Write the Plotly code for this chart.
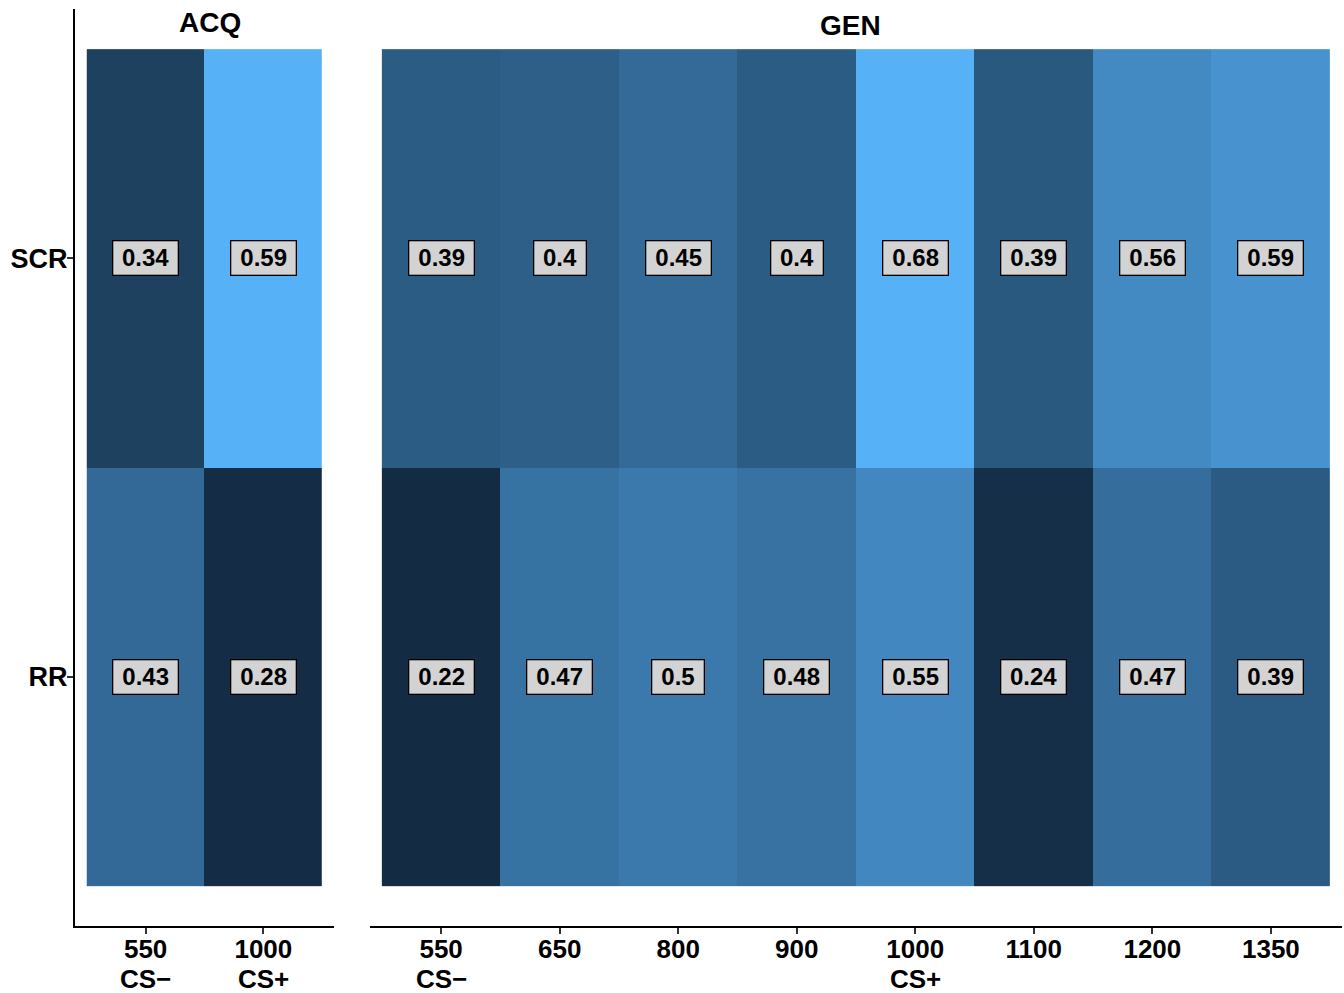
import numpy as np
import plotly.graph_objects as go

# ---------------- data ----------------
rows = ["RR", "SCR"]  # bottom -> top
acq_doses = ["550", "1000"]
acq_cs = ["CS\u2212", "CS+"]
gen_doses = ["550", "650", "800", "900", "1000", "1100", "1200", "1350"]
gen_cs = ["CS\u2212", "", "", "", "CS+", "", "", ""]

acq_scr_labels = [0.34, 0.59]
acq_rr_labels = [0.43, 0.28]
gen_scr_labels = [0.39, 0.4, 0.45, 0.4, 0.68, 0.39, 0.56, 0.59]
gen_rr_labels = [0.22, 0.47, 0.5, 0.48, 0.55, 0.24, 0.47, 0.39]

# fill values (scaled)
acq_scr_fill = [0.18, 1.0]
acq_rr_fill = [0.49, 0.01]
gen_scr_fill = [0.39, 0.415, 0.50, 0.39, 1.0, 0.368, 0.73, 0.796]
gen_rr_fill = [0.0, 0.556, 0.61, 0.56, 0.71, 0.037, 0.527, 0.379]


# ---------------- colour scale (Lab interpolation like ggplot) ----------------
def hex_to_rgb(h):
    h = h.lstrip("#")
    return np.array([int(h[i:i + 2], 16) for i in (0, 2, 4)]) / 255.0


def srgb_to_lin(c):
    return np.where(c <= 0.04045, c / 12.92, ((c + 0.055) / 1.055) ** 2.4)


def lin_to_srgb(c):
    c = np.clip(c, 0, 1)
    return np.where(c <= 0.0031308, 12.92 * c, 1.055 * c ** (1 / 2.4) - 0.055)


M = np.array([[0.4124, 0.3576, 0.1805], [0.2126, 0.7152, 0.0722], [0.0193, 0.1192, 0.9505]])
Minv = np.linalg.inv(M)
WHITE = np.array([0.95047, 1.0, 1.08883])


def f(t):
    d = 6 / 29
    return np.where(t > d ** 3, np.cbrt(t), t / (3 * d * d) + 4 / 29)


def finv(t):
    d = 6 / 29
    return np.where(t > d, t ** 3, 3 * d * d * (t - 4 / 29))


def rgb_to_lab(rgb):
    xyz = M @ srgb_to_lin(rgb) / WHITE
    fx, fy, fz = f(xyz)
    return np.array([116 * fy - 16, 500 * (fx - fy), 200 * (fy - fz)])


def lab_to_rgb(lab):
    L, a, b = lab
    fy = (L + 16) / 116
    fx = fy + a / 500
    fz = fy - b / 200
    xyz = np.array([finv(fx), finv(fy), finv(fz)]) * WHITE
    return lin_to_srgb(Minv @ xyz)


lo = rgb_to_lab(hex_to_rgb("#132B43"))
hi = rgb_to_lab(hex_to_rgb("#56B1F7"))
colorscale = []
for t in np.linspace(0, 1, 21):
    rgb = lab_to_rgb(lo + (hi - lo) * t)
    r, g, b = (np.round(rgb * 255)).astype(int)
    colorscale.append([float(t), f"rgb({r},{g},{b})"])

# ---------------- figure ----------------
W, H = 1344, 993
FONT = "Liberation Sans, Arial, sans-serif"


def px_x(p):
    return p / W


def px_y(p):
    return 1 - p / H


fig = go.Figure()

fig.add_trace(go.Heatmap(
    x=list(range(len(acq_doses))), y=[0, 1],
    z=[acq_rr_fill, acq_scr_fill],
    zmin=0, zmax=1, colorscale=colorscale, showscale=False,
    xaxis="x", yaxis="y", hoverinfo="skip"))
fig.add_trace(go.Heatmap(
    x=list(range(len(gen_doses))), y=[0, 1],
    z=[gen_rr_fill, gen_scr_fill],
    zmin=0, zmax=1, colorscale=colorscale, showscale=False,
    xaxis="x2", yaxis="y", hoverinfo="skip"))

xtickfont = dict(family=FONT, size=26, color="black")
ytickfont = dict(family=FONT, size=27, color="black")
common_x = dict(showgrid=False, zeroline=False, showline=True, linecolor="black",
                linewidth=2, ticks="outside", ticklen=6, tickwidth=1.5,
                tickcolor="#333333", tickfont=xtickfont, anchor="y",
                ticklabelstandoff=-7, automargin=False, fixedrange=True)

y_dom = [px_y(926), px_y(9)]
fig.update_layout(
    width=W, height=H,
    margin=dict(l=0, r=0, t=0, b=0, autoexpand=False),
    paper_bgcolor="white", plot_bgcolor="white",
    xaxis=dict(domain=[px_x(75), px_x(334)], range=[-0.6, 1.6],
               tickvals=list(range(len(acq_doses))),
               ticktext=[f"<b>{d}</b>" for d in acq_doses], **common_x),
    xaxis2=dict(domain=[px_x(370), px_x(1342)], range=[-0.6, 7.6],
                tickvals=list(range(len(gen_doses))),
                ticktext=[f"<b>{d}</b>" for d in gen_doses], **common_x),
    yaxis=dict(domain=y_dom, range=[-0.596, 1.596],
               tickvals=[0, 1], ticktext=[f"<b>{r}</b>" for r in rows],
               showgrid=False, zeroline=False, showline=True, linecolor="black",
               linewidth=2, ticks="outside", ticklen=6, tickwidth=1.5,
               tickcolor="#333333", tickfont=ytickfont, anchor="x",
               ticklabelstandoff=-6, automargin=False, fixedrange=True),
    showlegend=False,
)

# cell labels
LFS = 24


def text_w(s):
    return sum(0.556 * LFS if ch.isdigit() else 0.278 * LFS for ch in s)


anns = []
for xref, scr, rr in (("x", acq_scr_labels, acq_rr_labels),
                      ("x2", gen_scr_labels, gen_rr_labels)):
    for yv, vals in ((1, scr), (0, rr)):
        for i, v in enumerate(vals):
            s = f"{v:g}"
            anns.append(dict(
                x=i, y=yv, xref=xref, yref="y", text=f"<b>{s}</b>",
                showarrow=False, font=dict(family=FONT, size=LFS, color="black"),
                bgcolor="#D3D3D3", bordercolor="black", borderwidth=1.3,
                borderpad=1, width=text_w(s) + 16, height=31,
                xanchor="center", yanchor="middle"))

# second line of x tick labels (CS- / CS+)
for xref, cs in (("x", acq_cs), ("x2", gen_cs)):
    for i, c in enumerate(cs):
        if c:
            anns.append(dict(x=i, y=px_y(979), xref=xref, yref="paper",
                             text=f"<b>{c}</b>", showarrow=False, height=24,
                             font=xtickfont, xanchor="center", yanchor="middle"))

# facet strip titles
anns.append(dict(x=px_x(210), y=px_y(23), xref="paper", yref="paper",
                 text="<b>ACQ</b>", showarrow=False,
                 font=dict(family=FONT, size=28, color="black"),
                 xanchor="center", yanchor="middle"))
anns.append(dict(x=px_x(850), y=px_y(26), xref="paper", yref="paper",
                 text="<b>GEN</b>", showarrow=False,
                 font=dict(family=FONT, size=28, color="black"),
                 xanchor="center", yanchor="middle"))

fig.update_layout(annotations=anns)

fig.write_html("out.html", config={"displayModeBar": False},
               post_script="document.body.style.margin='0';document.body.style.overflow='hidden';")
